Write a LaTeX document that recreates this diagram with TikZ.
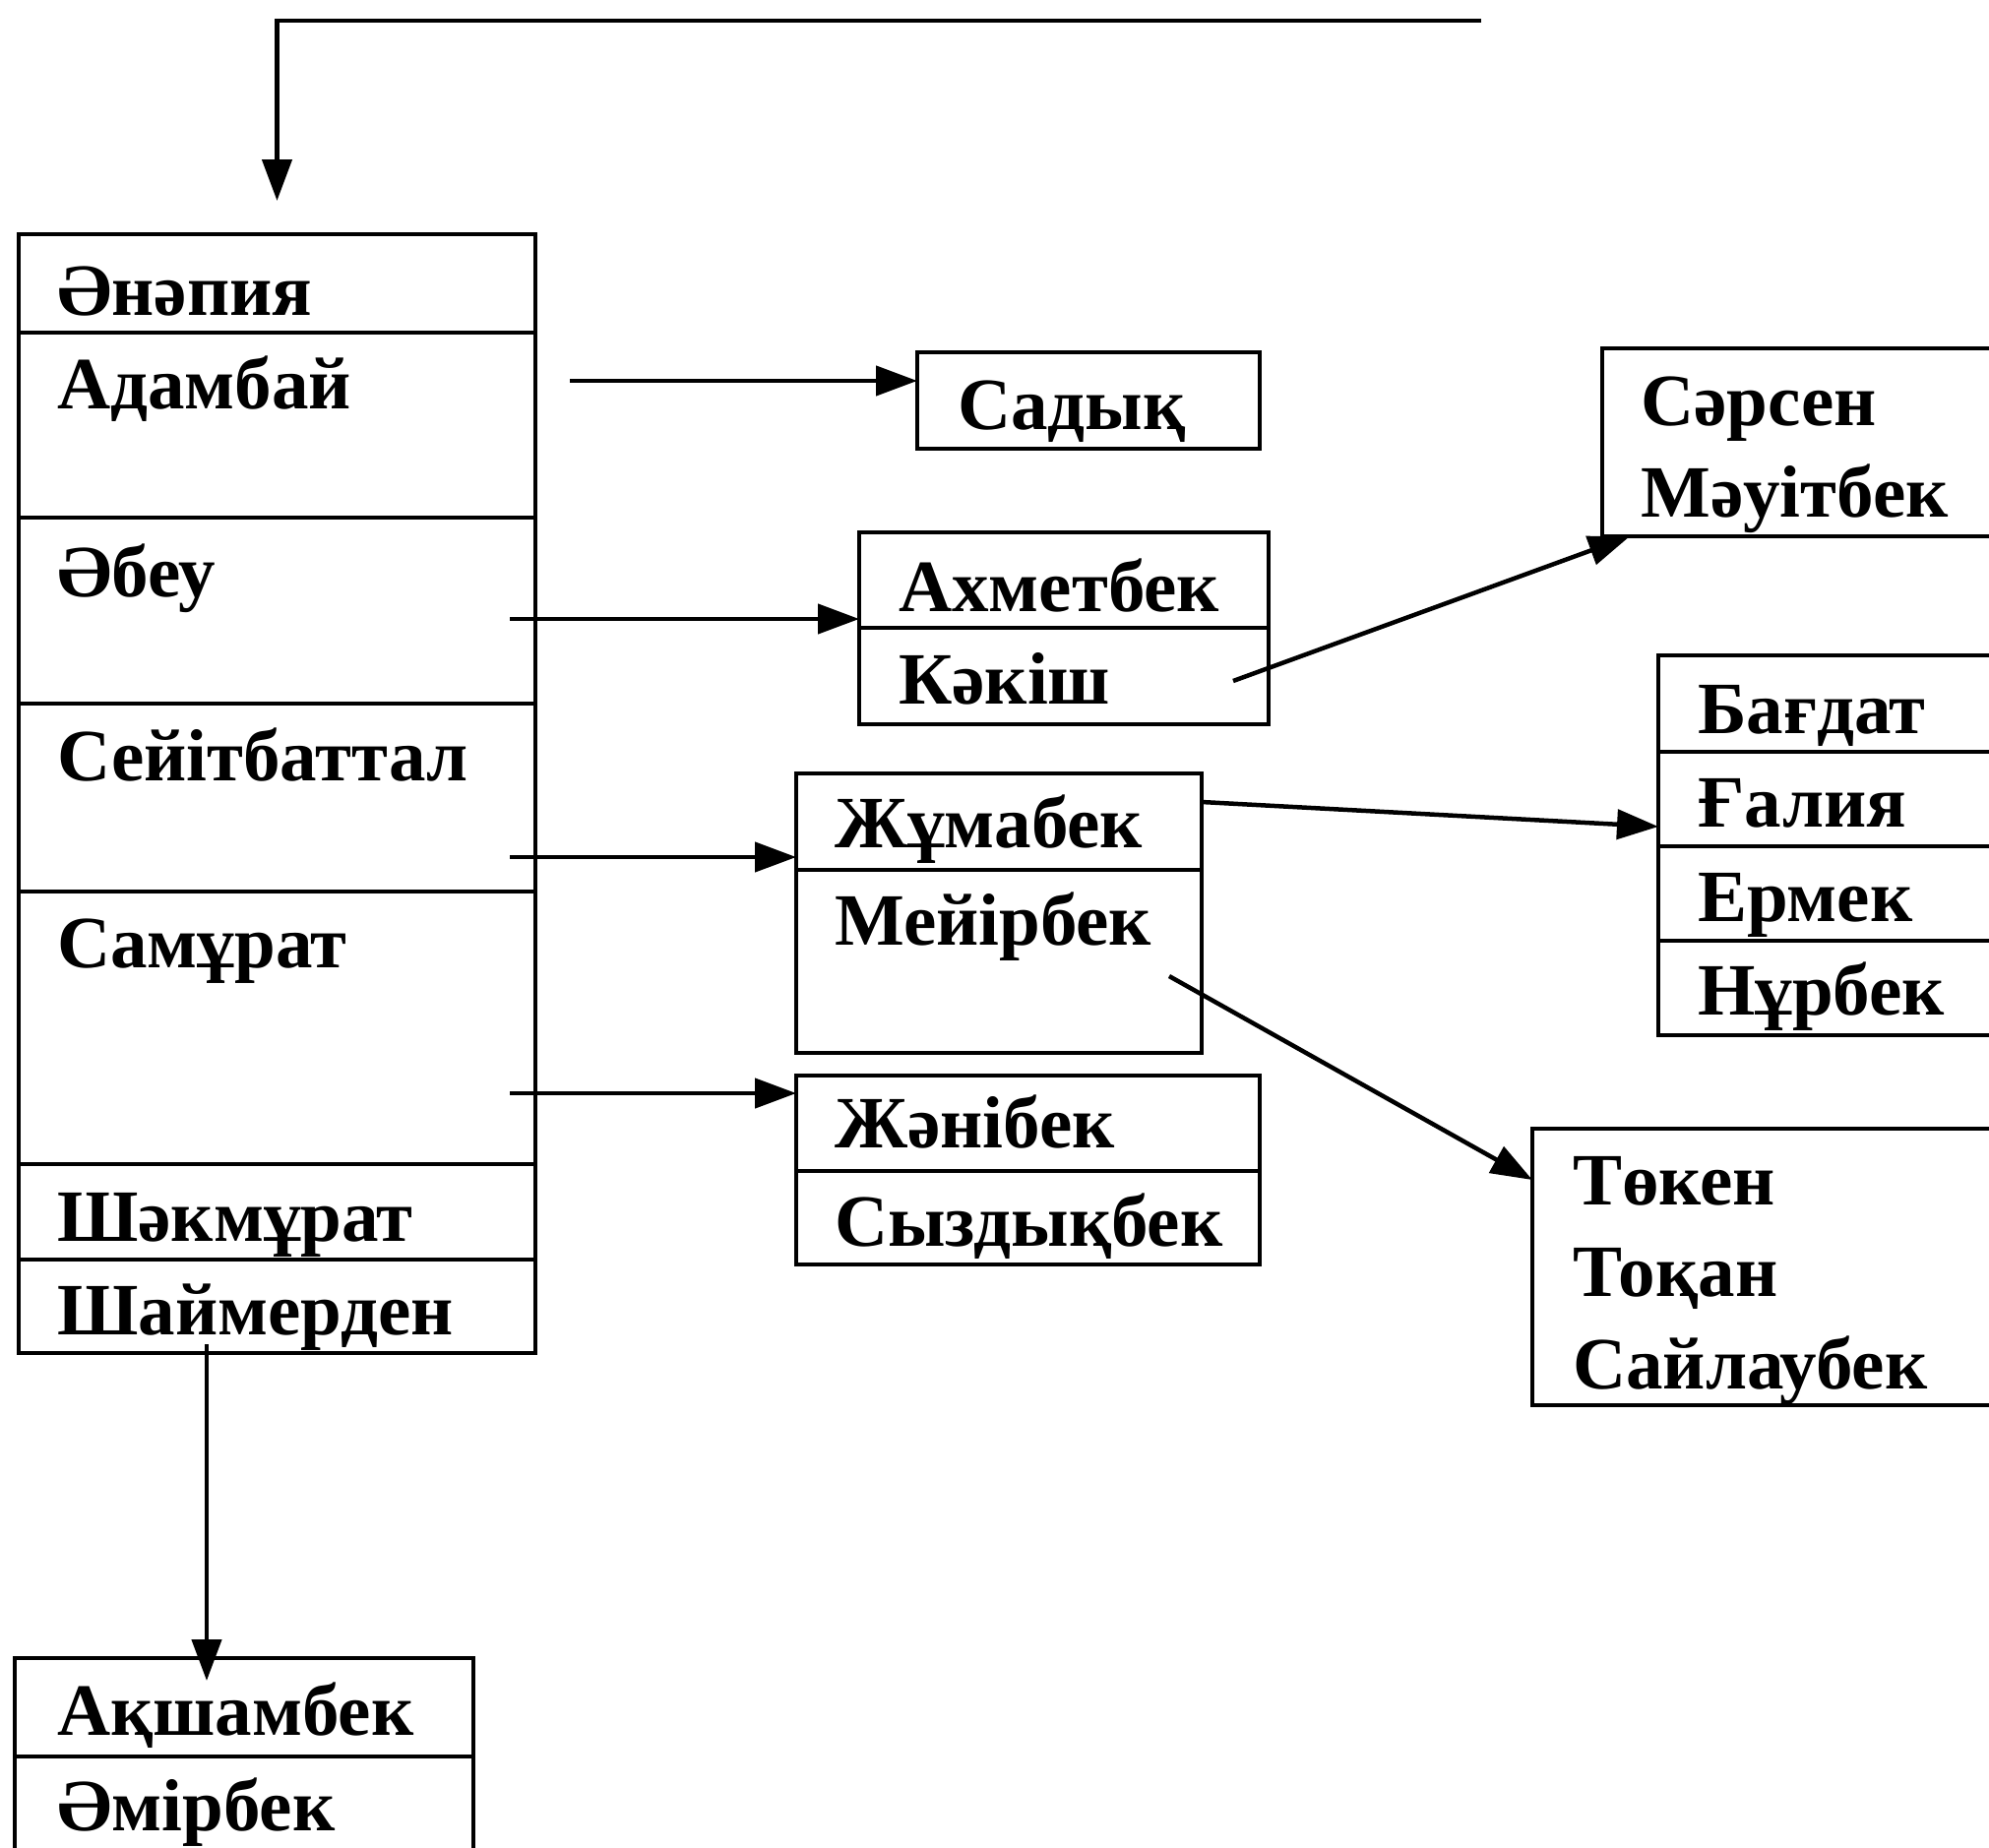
\documentclass[tikz,border=0pt]{standalone}
\usepackage{fontspec}
\setmainfont{Liberation Serif}
\usetikzlibrary{arrows.meta,calc}
\begin{document}
\begin{tikzpicture}[x=1pt,y=-1pt,
  cell/.style={draw, line width=4.5pt, anchor=north west, inner sep=0pt, outer sep=0pt},
  lbl/.style={anchor=base west, inner sep=0pt, font=\fontsize{75}{82}\selectfont\bfseries},
  arr/.style={line width=4.5pt, -{Triangle[length=42pt,width=30pt]}},
]
\useasboundingbox (0,0) rectangle (2021,1877);
\clip (0,0) rectangle (2021,1877);
% left column
\node[cell, minimum width=525pt, minimum height=100pt] (r1) at (19,238) {};
\node[cell, minimum width=525pt, minimum height=188pt] (r2) at (19,338) {};
\node[cell, minimum width=525pt, minimum height=189pt] (r3) at (19,526) {};
\node[cell, minimum width=525pt, minimum height=191pt] (r4) at (19,715) {};
\node[cell, minimum width=525pt, minimum height=277pt] (r5) at (19,906) {};
\node[cell, minimum width=525pt, minimum height=97pt] (r6) at (19,1183) {};
\node[cell, minimum width=525pt, minimum height=95pt] (r7) at (19,1280) {};
\node[lbl] (t1) at (58,320) {Әнәпия};
\node[lbl] (t2) at (58,415) {Адамбай};
\node[lbl] (t3) at (58,606) {Әбеу};
\node[lbl] (t4) at (58,793) {Сейітбаттал};
\node[lbl] (t5) at (58,983) {Самұрат};
\node[lbl] (t6) at (58,1261) {Шәкмұрат};
\node[lbl] (t7) at (58,1356) {Шаймерден};
% Sadyk
\node[cell, minimum width=348pt, minimum height=98pt] (sadyk) at (932,358) {};
\node[lbl] (tsadyk) at (973,436) {Садық};
% Ahmetbek / Kakish
\node[cell, minimum width=416pt, minimum height=97pt] (ahmet) at (873,541) {};
\node[cell, minimum width=416pt, minimum height=98pt] (kakish) at (873,638) {};
\node[lbl] (tahmet) at (913,621) {Ахметбек};
\node[lbl] (tkakish) at (913,715) {Кәкіш};
% Sarsen
\node[cell, minimum width=500pt, minimum height=191pt] (sarsen) at (1628,354) {};
\node[lbl] (tsarsen) at (1667,432) {Сәрсен};
\node[lbl] (tmauit) at (1667,525) {Мәуітбек};
% Zhumabek / Meyirbek
\node[cell, minimum width=412pt, minimum height=98pt] (zhum) at (809,786) {};
\node[cell, minimum width=412pt, minimum height=186pt] (meyir) at (809,884) {};
\node[lbl] (tzhum) at (848,861) {Жұмабек};
\node[lbl] (tmeyir) at (848,960) {Мейірбек};
% Zhanibek / Syzdykbek
\node[cell, minimum width=471pt, minimum height=97pt] (zhan) at (809,1093) {};
\node[cell, minimum width=471pt, minimum height=95pt] (syzd) at (809,1190) {};
\node[lbl] (tzhan) at (848,1166) {Жәнібек};
\node[lbl] (tsyzd) at (848,1266) {Сыздықбек};
% Bagdat group
\node[cell, minimum width=400pt, minimum height=98pt] (bag) at (1685,666) {};
\node[cell, minimum width=400pt, minimum height=96pt] (gal) at (1685,764) {};
\node[cell, minimum width=400pt, minimum height=96pt] (erm) at (1685,860) {};
\node[cell, minimum width=400pt, minimum height=96pt] (nur) at (1685,956) {};
\node[lbl] (tbag) at (1725,745) {Бағдат};
\node[lbl] (tgal) at (1725,840) {Ғалия};
\node[lbl] (term) at (1725,936) {Ермек};
\node[lbl] (tnur) at (1725,1031) {Нұрбек};
% Token group
\node[cell, minimum width=500pt, minimum height=281pt] (tok) at (1557,1147) {};
\node[lbl] (ttok1) at (1598,1224) {Төкен};
\node[lbl] (ttok2) at (1598,1317) {Тоқан};
\node[lbl] (ttok3) at (1598,1411) {Сайлаубек};
% Akshambek / Amirbek
\node[cell, minimum width=466pt, minimum height=100pt] (aksh) at (15,1685) {};
\node[cell, minimum width=466pt, minimum height=150pt] (amir) at (15,1785) {};
\node[lbl] (taksh) at (58,1763) {Ақшамбек};
\node[lbl] (tamir) at (58,1860) {Әмірбек};
% connectors
\coordinate (topR) at (1505,21);
\draw[arr] (topR) -| ([yshift=34pt]r1.north);
\coordinate (a1) at (579,387);
\draw[arr] (a1) -- (a1 -| sadyk.west);
\coordinate (a2) at (518,629);
\draw[arr] (a2) -- (a2 -| ahmet.west);
\coordinate (a3) at (1253,692);
\draw[arr] (a3) -- ($(sarsen.south west)+(28,0)$);
\coordinate (a4) at (518,871);
\draw[arr] (a4) -- (a4 -| zhum.west);
\coordinate (a5) at (518,1111);
\draw[arr] (a5) -- (a5 -| zhan.west);
\coordinate (a6) at (1221,815);
\draw[arr] (a6) -- ([yshift=-28pt]gal.west);
\coordinate (a7) at (1188,992);
\draw[arr] (a7) -- ([yshift=-52pt]tok.north west);
\coordinate (a8) at (210,1366);
\draw[arr, shorten >=-23pt] (a8) -- (a8 |- aksh.north);
\end{tikzpicture}
\end{document}
